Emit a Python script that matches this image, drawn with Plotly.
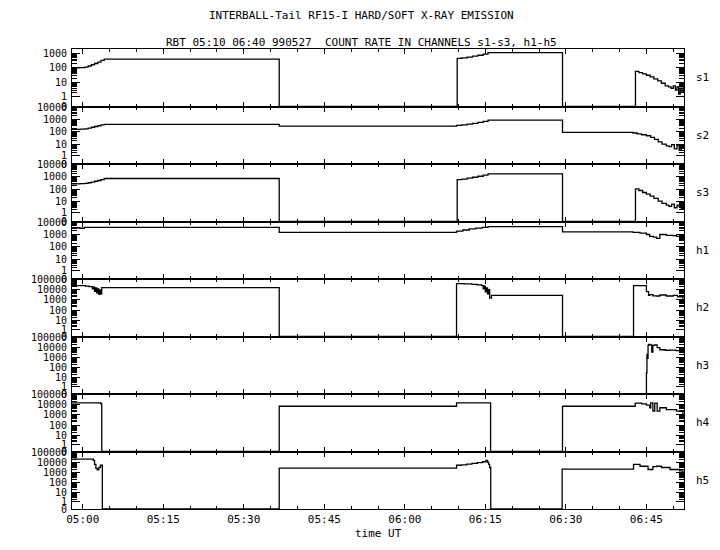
import numpy as np
import pandas as pd
import plotly.graph_objects as go
from plotly.subplots import make_subplots

# ---------------- data (time in minutes after 05:00 UT, 1999-05-27) ----------------
channels = ["s1", "s2", "s3", "h1", "h2", "h3", "h4", "h5"]
top_decade = [3, 4, 4, 4, 5, 5, 5, 5]

s1_t = [-2.0, -0.5, 0.4, 1.0, 1.6, 2.2, 2.8, 3.4, 4.0, 36.6, 69.75, 70.6, 71.6, 72.6, 73.6, 74.6, 75.5,
        89.37, 102.96, 103.6, 104.3, 105.0, 105.7, 106.4, 107.1, 107.8, 108.5, 109.1, 109.6, 110.0,
        110.4, 110.7, 111.0, 111.3, 111.6, 111.9]
s1_v = [100, 105, 115, 135, 165, 200, 250, 320, 400, 0, 450, 480, 540, 620, 720, 850, 1100,
        0, 58, 48, 40, 32, 25, 18, 13, 9, 6, 5, 4, 6, 3, 5, 1.5, 4, 2, 5]

s2_t = [-2.0, -0.5, 0.4, 1.0, 1.6, 2.2, 2.8, 3.4, 4.0, 36.6, 69.63, 70.6, 71.6, 72.6, 73.6, 74.6, 75.5,
        89.37, 102.5, 103.3, 104.1, 105.0, 105.8, 106.5, 107.2, 107.9, 108.7, 109.2, 109.7, 110.2,
        110.7, 111.1, 111.5, 111.9]
s2_v = [160, 165, 175, 200, 235, 270, 310, 360, 400, 290, 330, 370, 420, 490, 580, 700, 900,
        90, 80, 68, 58, 48, 35, 24, 15, 10, 7, 6, 9, 4, 8, 3, 7, 5]

s3_t = [-2.0, -0.5, 0.4, 1.0, 1.6, 2.2, 2.8, 3.4, 4.0, 36.6, 69.75, 70.6, 71.6, 72.6, 73.6, 74.6, 75.5,
        89.37, 102.96, 103.6, 104.3, 105.0, 105.7, 106.4, 107.2, 107.9, 108.7, 109.2, 109.7, 110.2,
        110.7, 111.1, 111.5, 111.9]
s3_v = [280, 285, 300, 340, 390, 450, 520, 620, 750, 0, 600, 680, 800, 950, 1150, 1400, 1800,
        0, 110, 80, 55, 40, 28, 18, 11, 7, 5, 4, 6, 3, 5, 3.5, 2.5, 4]

h1_t = [-2.0, -0.6, 0.3, 36.6, 69.63, 70.8, 72.0, 73.2, 74.4, 75.5, 89.37, 102.5, 103.8, 105.0,
        105.6, 106.3, 106.9, 107.5, 108.7, 109.9, 110.6, 111.3, 111.9]
h1_v = [3500, 3200, 3700, 1500, 1900, 2300, 2800, 3300, 3800, 4300, 1600, 1500, 1300, 1000,
        700, 600, 480, 1000, 860, 800, 690, 600, 480]

h2_t = [-2.0, 0.5, 1.2, 1.8, 2.0, 2.2, 2.4, 2.6, 2.8, 3.0, 3.2, 3.4, 3.54, 36.6,
        69.63, 71.0, 72.5, 73.5, 74.3, 74.6, 74.8, 75.0, 75.2, 75.4, 75.6, 75.8, 76.15, 89.37,
        102.6, 105.0, 105.4, 105.6, 106.2, 106.9, 107.5, 108.7, 110.0, 110.8, 111.8]
h2_v = [25000, 22000, 20000, 12000, 18000, 7000, 15000, 5000, 12000, 3500, 9000, 4000, 16000, 0,
        40000, 38000, 33000, 30000, 25000, 12000, 22000, 6000, 15000, 4000, 10000, 1500, 2800, 0,
        25000, 6500, 2800, 3200, 2500, 2400, 3000, 2400, 2800, 2000, 900]

h3_t = [-2.0, 105.0, 105.1, 105.2, 105.3, 105.45, 105.7, 106.0, 106.2, 106.55, 107.0, 107.5,
        108.5, 109.5, 110.5, 111.2, 111.8]
h3_v = [0, 30, 2000, 800, 15000, 19000, 17000, 3200, 15000, 17000, 9000, 5600,
        5000, 5200, 4600, 3500, 2500]

h4_t = [-2.0, 3.3, 3.54, 36.6, 69.63, 75.97, 89.37, 102.9, 104.1, 105.0, 105.6, 105.8, 106.2,
        106.55, 107.0, 107.5, 108.7, 110.6, 111.8]
h4_v = [15000, 13000, 0, 7000, 15000, 0, 7000, 14000, 12000, 9000, 5000, 15000, 2300,
        14000, 2300, 5000, 3300, 2300, 1000]

h5_t = [-2.0, 1.97, 2.2, 2.45, 2.7, 3.0, 3.3, 3.65, 36.6, 69.63, 70.5, 71.5, 72.5, 73.5, 74.5,
        75.1, 75.4, 75.6, 75.8, 76.0, 89.3, 102.6, 103.8, 105.3, 106.2, 106.9, 107.8, 109.4,
        111.2, 111.8]
h5_v = [20000, 15000, 6000, 2500, 1800, 3000, 5000, 0, 2600, 5000, 5500, 6500, 7500, 9000, 11000,
        15000, 10000, 6000, 3000, 0, 2100, 6000, 4000, 1900, 3600, 4000, 3000, 1900,
        1400, 900]

series_t = [s1_t, s2_t, s3_t, h1_t, h2_t, h3_t, h4_t, h5_t]
series_v = [s1_v, s2_v, s3_v, h1_v, h2_v, h3_v, h4_v, h5_v]

title1 = "INTERBALL-Tail RF15-I HARD/SOFT X-RAY EMISSION"
title2 = "RBT 05:10 06:40 990527  COUNT RATE IN CHANNELS s1-s3, h1-h5"
x_title = "time UT"

# ---------------- figure ----------------
BASE = pd.Timestamp("1999-05-27 05:00:00")
C = 0.25


def f(v):
    return np.log10(np.asarray(v, dtype=float) + C)


def tm(m):
    return BASE + pd.to_timedelta(np.asarray(m, dtype=float), unit="m")


FONT = "DejaVu Sans Mono"
n = len(channels)
fig = make_subplots(rows=n, cols=1, shared_xaxes=True, vertical_spacing=0)

for i, (name, t, v) in enumerate(zip(channels, series_t, series_v)):
    fig.add_trace(go.Scatter(x=tm(t), y=f(v), mode="lines", line=dict(color="black", width=1.3, shape="hv"),
                             name=name, showlegend=False), row=i + 1, col=1)
    td = top_decade[i]
    vals = [0] + [10 ** k for k in range(td + 1)]
    minor_vals = [k * 10 ** d for d in range(td) for k in range(2, 10)]
    top = td + (0.28 if td == 3 else 0.05)
    fig.update_yaxes(row=i + 1, col=1, range=[float(f(0)), top], tickmode="array",
                     tickvals=list(f(vals)), ticktext=[str(x) for x in vals],
                     ticks="inside", ticklen=8, tickwidth=1, tickcolor="black",
                     minor=dict(tickmode="array", tickvals=list(f(minor_vals)), ticks="inside",
                                ticklen=5, tickwidth=1, tickcolor="black", showgrid=False),
                     showline=True, linecolor="black", linewidth=1, mirror="ticks",
                     showgrid=False, zeroline=False, ticklabelstandoff=2,
                     tickfont=dict(family=FONT, size=10, color="black"))
    dom = fig.layout["yaxis" if i == 0 else f"yaxis{i + 1}"].domain
    fig.add_annotation(text=name, xref="paper", yref="paper", x=1.0, y=(dom[0] + dom[1]) / 2,
                       xanchor="left", yanchor="middle", xshift=10, showarrow=False,
                       font=dict(family=FONT, size=11, color="black"))

fig.update_xaxes(type="date", range=[tm(-2.0), tm(112.0)], tick0=BASE, dtick=15 * 60 * 1000,
                 tickformat="%H:%M", ticks="inside", ticklen=5, tickwidth=1, tickcolor="black",
                 minor=dict(dtick=5 * 60 * 1000, ticks="inside", ticklen=3, tickwidth=1,
                            tickcolor="black", showgrid=False),
                 showline=True, linecolor="black", linewidth=1, mirror="ticks", showgrid=False,
                 zeroline=False, tickfont=dict(family=FONT, size=11, color="black"))

fig.add_annotation(text=title1, xref="paper", yref="paper", x=0.473, y=1.0, yanchor="middle",
                   yshift=34, showarrow=False, font=dict(family=FONT, size=11, color="black"))
fig.add_annotation(text=title2, xref="paper", yref="paper", x=0.473, y=1.0, yanchor="middle",
                   yshift=7, showarrow=False, font=dict(family=FONT, size=11, color="black"))
fig.add_annotation(text=x_title, xref="paper", yref="paper", x=0.5, y=0.0, yanchor="middle",
                   yshift=-24, showarrow=False, font=dict(family=FONT, size=11, color="black"))

# page body has an 8px margin: size the figure so it fits the 720x550 window without scrolling
fig.update_layout(width=712, height=542, margin=dict(l=64, r=36, t=41, b=41),
                  plot_bgcolor="white", paper_bgcolor="white", showlegend=False)

fig.write_html("out.html")
